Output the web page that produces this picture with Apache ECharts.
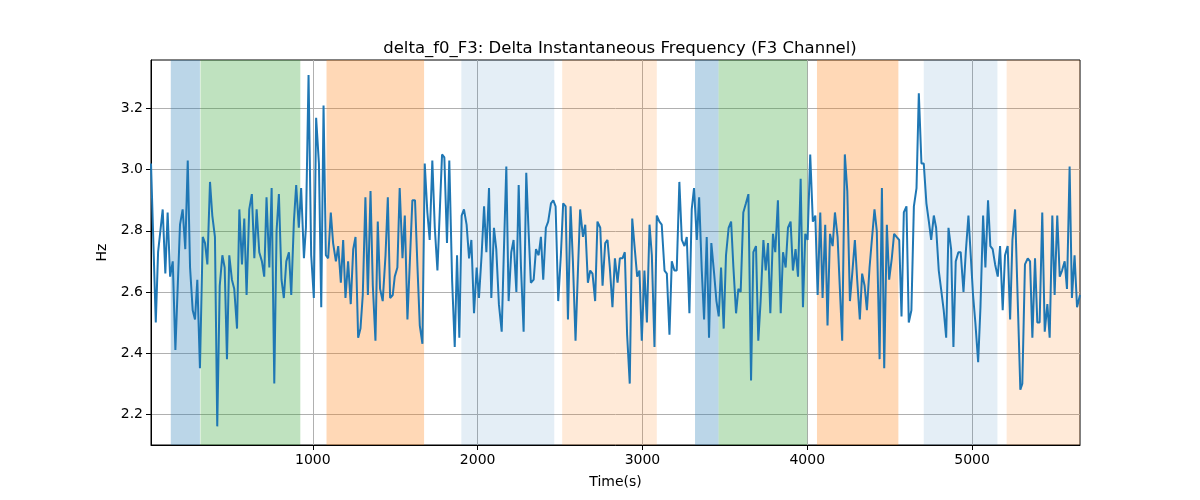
<!DOCTYPE html>
<html><head><meta charset="utf-8">
<script src="https://cdn.jsdelivr.net/npm/echarts@6/dist/echarts.min.js"></script>
<style>html,body{margin:0;padding:0;background:#fff}#c{width:1200px;height:500px}</style>
</head><body><div id="c"></div>
<script>
const times = [
18,47,61,89,105,119,134,150,166,194,210,226,241,255,271,285,299,315,332,346,360,376,390,406,420,435,451,465,479,493,509,523,540,554,570,584,598,614,630,645,659,675,691,705,
719,736,750,766,780,794,810,824,839,855,869,885,899,915,929,946,958,974,990,1006,1020,1037,1051,1065,1079,1093,1109,1123,1140,1154,1170,1184,1198,1214,1230,1245,1259,1275,1289,1303,1319,1334,1350,1364,1380,1394,1408,1424,1441,1455,1469,
1485,1497,1513,1527,1544,1558,1574,1588,1604,1620,1635,1649,1665,1679,1695,1709,1725,1740,1756,1770,1784,1798,1814,1828,1845,1861,1875,1889,1903,1917,1933,1948,1962,1978,1994,2008,2024,2039,2053,2069,2083,2099,2113,2129,2146,2158,2174,2188,2204,2218,
2235,2249,2263,2279,2295,2309,2323,2340,2354,2370,2384,2398,2414,2428,2445,2459,2473,2489,2505,2519,2534,2548,2564,2578,2594,2608,2622,2639,2653,2669,2683,2697,2713,2727,2744,2758,2774,2788,2802,2818,2833,2849,2863,2879,2893,2907,2923,2938,2952,2968,2982,
2996,3012,3027,3043,3057,3073,3087,3103,3117,3134,3148,3164,3178,3194,3208,3224,3239,3255,3269,3285,3299,3313,3330,3344,3360,3374,3390,3404,3418,3435,3449,3463,3477,3493,3507,3523,3538,3552,3568,3582,3596,3612,3628,3643,3659,3673,3689,3703,3717,3734,
3748,3762,3776,3792,3806,3822,3839,3853,3869,3883,3899,3913,3929,3944,3960,3974,3988,4002,4018,4034,4049,4063,4079,4093,4109,4123,4138,4154,4168,4184,4198,4212,4228,4243,4259,4273,4289,4303,4319,4333,4348,4362,4378,4392,4408,4422,4439,4453,4467,4483,4497,
4513,4527,4542,4558,4572,4586,4602,4616,4632,4647,4663,4677,4693,4707,4723,4738,4752,4768,4782,4798,4812,4828,4843,4857,4873,4887,4901,4917,4931,4948,4962,4978,4992,5006,5020,5037,5051,5067,5081,5097,5111,5125,5140,5156,
5170,5186,5200,5216,5231,5245,5261,5293,5305,5321,5338,5352,5366,5382,5396,5410,5426,5441,5457,5471,5487,5501,5517,5532,5546,5562,5576,5592,5606,5622,5637,5655
];
const values = [
3.02,2.50,2.73,2.87,2.66,2.86,2.65,2.70,2.41,2.82,2.87,2.74,3.03,2.68,2.54,2.51,2.64,2.35,2.78,2.76,2.69,2.96,2.85,2.78,2.16,2.62,2.72,2.68,2.38,2.72,2.64,2.61,2.48,2.87,2.69,2.84,2.59,2.87,2.92,2.71,2.87,2.73,2.70,2.65,
2.91,2.68,2.94,2.30,2.80,2.92,2.64,2.58,2.70,2.73,2.59,2.83,2.95,2.81,2.94,2.71,2.81,3.31,2.72,2.58,3.17,3.02,2.55,3.21,2.72,2.71,2.86,2.76,2.70,2.75,2.63,2.77,2.58,2.70,2.56,2.74,2.78,2.45,2.48,2.59,2.91,2.59,2.93,2.62,2.44,2.83,2.61,2.57,2.72,2.91,2.58,
2.59,2.65,2.68,2.94,2.71,2.85,2.51,2.69,2.90,2.90,2.68,2.49,2.43,3.02,2.86,2.77,3.03,2.81,2.67,2.86,3.05,3.04,2.76,3.03,2.64,2.42,2.72,2.45,2.85,2.87,2.82,2.71,2.77,2.53,2.68,2.58,2.72,2.88,2.73,2.94,2.58,2.81,2.74,2.56,2.47,2.71,3.01,2.57,2.73,2.77,
2.60,2.95,2.68,2.47,2.99,2.80,2.63,2.64,2.74,2.72,2.78,2.64,2.81,2.83,2.89,2.90,2.88,2.57,2.72,2.89,2.88,2.51,2.88,2.70,2.44,2.66,2.87,2.78,2.82,2.63,2.67,2.66,2.57,2.83,2.81,2.62,2.76,2.77,2.68,2.55,2.71,2.63,2.71,2.71,2.73,2.46,2.30,2.84,2.75,2.65,2.67,
2.44,2.67,2.50,2.82,2.72,2.42,2.85,2.83,2.82,2.67,2.66,2.46,2.70,2.67,2.67,2.96,2.77,2.75,2.78,2.53,2.87,2.94,2.77,2.91,2.67,2.51,2.78,2.45,2.76,2.66,2.57,2.52,2.68,2.48,2.72,2.81,2.83,2.68,2.53,2.61,2.60,2.86,2.89,2.92,2.31,2.73,2.75,2.44,2.57,2.77,
2.67,2.76,2.53,2.79,2.73,2.90,2.53,2.73,2.68,2.81,2.83,2.67,2.74,2.65,2.97,2.55,2.79,2.77,3.05,2.83,2.85,2.59,2.86,2.58,2.82,2.49,2.79,2.75,2.86,2.78,2.61,2.44,3.05,2.93,2.57,2.66,2.77,2.64,2.51,2.66,2.62,2.54,2.68,2.77,2.87,2.80,2.38,2.94,2.35,2.82,2.64,
2.71,2.79,2.78,2.77,2.52,2.86,2.88,2.50,2.54,2.88,2.94,3.25,3.02,3.02,2.89,2.83,2.77,2.85,2.81,2.67,2.61,2.54,2.45,2.81,2.74,2.42,2.70,2.73,2.73,2.60,2.73,2.85,2.72,2.59,2.50,2.37,2.55,2.85,2.68,2.90,2.75,2.74,2.69,2.65,
2.75,2.54,2.72,2.75,2.51,2.77,2.87,2.28,2.30,2.69,2.71,2.70,2.45,2.71,2.50,2.50,2.86,2.47,2.56,2.45,2.85,2.59,2.85,2.65,2.67,2.70,2.61,3.01,2.58,2.72,2.55,2.59
];
const bandStart = [138, 318, 1083, 1901, 2513, 3319, 3462, 4059, 4707, 5210];
const bandEnd   = [315, 924, 1675, 2465, 3087, 3462, 4000, 4553, 5154, 5655];
const bandKind  = ['blue','green','orange','paleBlue','paleOrange','blue','green','orange','paleBlue','paleOrange'];
const xTicks = [1000, 2000, 3000, 4000, 5000];
const yTicks = [2.2, 2.4, 2.6, 2.8, 3.0, 3.2];
const titleText = 'delta_f0_F3: Delta Instantaneous Frequency (F3 Channel)';

const kindColor = {
  blue: 'rgba(31,119,180,0.3)',
  green: 'rgba(44,160,44,0.3)',
  orange: 'rgba(255,127,14,0.3)',
  paleBlue: 'rgba(31,119,180,0.12)',
  paleOrange: 'rgba(255,127,14,0.16)'
};
const FONT = 'DejaVu Sans';
const chart = echarts.init(document.getElementById('c'), null, {renderer: 'canvas'});
const lineData = times.map((t, i) => [t, values[i]]);
const areas = bandStart.map((s, i) => [
  {xAxis: s, itemStyle: {color: kindColor[bandKind[i]]}},
  {xAxis: bandEnd[i]}
]);
chart.setOption({
  animation: false,
  backgroundColor: '#fff',
  title: {
    text: titleText, left: 615, top: 35, textAlign: 'center',
    textStyle: {fontFamily: FONT, fontSize: 16.5, fontWeight: 'normal', color: '#000'}
  },
  grid: {left: 151, right: 120, top: 60, bottom: 55, show: true, borderColor: '#000', borderWidth: 1, backgroundColor: 'transparent'},
  xAxis: {
    type: 'value', min: times[0], max: times[times.length - 1],
    axisLine: {lineStyle: {color: '#000', width: 1}},
    axisTick: {inside: false, length: 5, customValues: xTicks, lineStyle: {color: '#000', width: 1}},
    axisLabel: {
      color: '#000', fontFamily: FONT, fontSize: 14, margin: 8,
      customValues: xTicks,
      formatter: v => String(Math.round(v))
    },
    splitLine: {show: true, lineStyle: {color: '#b0b0b0', width: 1}},
    name: 'Time(s)', nameLocation: 'middle', nameGap: 30,
    nameTextStyle: {color: '#000', fontFamily: FONT, fontSize: 14}
  },
  yAxis: {
    type: 'value', min: 2.099, max: 3.359,
    axisLine: {show: true, lineStyle: {color: '#000', width: 1}},
    axisTick: {show: true, inside: false, length: 5, customValues: yTicks, lineStyle: {color: '#000', width: 1}},
    axisLabel: {
      color: '#000', fontFamily: FONT, fontSize: 14, margin: 8,
      customValues: yTicks,
      formatter: v => v.toFixed(1)
    },
    splitLine: {show: true, lineStyle: {color: '#b0b0b0', width: 1}},
    name: 'Hz', nameLocation: 'middle', nameGap: 39, nameRotate: 90,
    nameTextStyle: {color: '#000', fontFamily: FONT, fontSize: 14}
  },
  series: [{
    type: 'line', data: lineData, symbol: 'none', smooth: false,
    lineStyle: {color: '#1f77b4', width: 2},
    itemStyle: {color: '#1f77b4'},
    z: 3,
    markArea: {silent: true, z: 1, data: areas}
  }]
});
</script></body></html>
